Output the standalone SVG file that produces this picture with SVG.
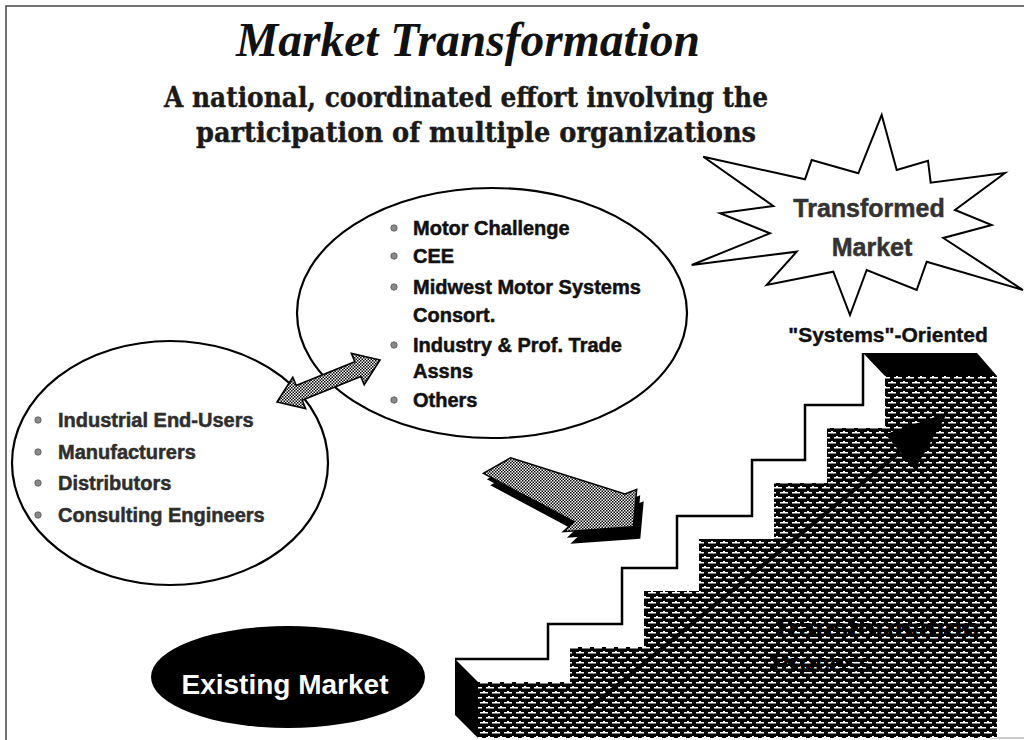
<svg xmlns="http://www.w3.org/2000/svg" width="1024" height="740" viewBox="0 0 1024 740">
  <style>
    .title { font-family: "Liberation Serif", "Times New Roman", serif; font-weight: bold; font-style: italic; fill: #111; }
    .sub { font-family: "DejaVu Serif", "Liberation Serif", serif; font-weight: bold; fill: #1a1a1a; stroke: #1a1a1a; stroke-width: 0.4; }
    .item { font-family: "Liberation Sans", Arial, sans-serif; font-weight: bold; font-size: 20px; fill: #111; stroke: #111; stroke-width: 0.5; }
    .item.soft { fill: #2e2e2e; stroke: #2e2e2e; }
    .bullet { fill: #8a8a8a; stroke: #555; stroke-width: 0.8; }
    .oval { fill: #fff; stroke: #000; stroke-width: 2.2; }
    .lbl { font-family: "Liberation Sans", Arial, sans-serif; font-weight: bold; text-anchor: middle; }
    .frame { stroke: #444; stroke-width: 1.5; fill: none; }
  </style>
  <defs>
    <!-- fine dot screen used on the block arrows -->
    <pattern id="dots" width="3" height="3" patternUnits="userSpaceOnUse">
      <rect width="3" height="3" fill="#fff"/>
      <rect width="1.5" height="1.5" fill="#000"/>
      <rect x="1.5" y="1.5" width="1.5" height="1.5" fill="#000"/>
    </pattern>
    <!-- dark brick-like hatch for the stair faces -->
    <pattern id="brick" width="12" height="10" patternUnits="userSpaceOnUse">
      <rect width="12" height="10" fill="#000"/>
      <rect x="0" y="2" width="8" height="1.5" fill="#fff"/>
      <rect x="6" y="7" width="6" height="1.5" fill="#fff"/>
      <rect x="0" y="7" width="2" height="1.5" fill="#fff"/>
      <rect x="3" y="1" width="2" height="1" fill="#fff"/>
      <rect x="8" y="6" width="2" height="1" fill="#fff"/>
    </pattern>
    <marker id="head" markerUnits="userSpaceOnUse" markerWidth="62" markerHeight="46" viewBox="0 0 62 46" refX="0" refY="23" orient="auto">
      <path d="M0,0 L62,23 L0,46 Z" fill="#000"/>
    </marker>
  </defs>

  <rect width="1024" height="740" fill="#fff"/>
  <!-- page frame -->
  <path class="frame" d="M6,740 V6 H1024"/>
  <path d="M990,738 H1024" stroke="#999" stroke-width="1.2"/>

  <!-- headings -->
  <g id="title">
    <text class="title" x="468" y="56" font-size="48" text-anchor="middle" textLength="464" lengthAdjust="spacingAndGlyphs">Market Transformation</text>
    <text class="sub" x="466" y="107" font-size="28" text-anchor="middle" textLength="604" lengthAdjust="spacingAndGlyphs">A national, coordinated effort involving the</text>
    <text class="sub" x="476" y="142" font-size="28" text-anchor="middle" textLength="560" lengthAdjust="spacingAndGlyphs">participation of multiple organizations</text>
  </g>

  <!-- burst: transformed market -->
  <g id="transformed-market">
    <polygon points="881.7,115 896.7,170 928,160.7 930.7,182.7 1005,173 955,210 991.7,225 943.3,238 1023,290 926.7,261.7 916.7,290 866.7,270 850,315 833.3,271.7 766.7,285 796.7,251.7 691.7,265 770,233.3 720,213.3 773.3,206 703.3,156.7 805,179.3 811.7,160 858.3,173.3" fill="#fff" stroke="#000" stroke-width="2" stroke-linejoin="miter"/>
    <text class="lbl" x="869" y="217" font-size="25" fill="#333" stroke="#333" stroke-width="0.5">Transformed</text>
    <text class="lbl" x="872" y="256" font-size="25" fill="#333" stroke="#333" stroke-width="0.5">Market</text>
  </g>

  <!-- participating organisations -->
  <g id="organizations">
    <ellipse class="oval" cx="492" cy="313" rx="195" ry="125"/>
    <circle class="bullet" cx="394" cy="228" r="3.2"/>
    <circle class="bullet" cx="394" cy="256" r="3.2"/>
    <circle class="bullet" cx="394" cy="287" r="3.2"/>
    <circle class="bullet" cx="394" cy="345" r="3.2"/>
    <circle class="bullet" cx="394" cy="400" r="3.2"/>
    <text class="item" x="413" y="235">Motor Challenge</text>
    <text class="item" x="413" y="263">CEE</text>
    <text class="item" x="413" y="294">Midwest Motor Systems</text>
    <text class="item" x="413" y="322">Consort.</text>
    <text class="item" x="413" y="352">Industry &amp; Prof. Trade</text>
    <text class="item" x="413" y="378">Assns</text>
    <text class="item" x="413" y="407">Others</text>
  </g>

  <!-- market participants -->
  <g id="participants">
    <ellipse class="oval" cx="170" cy="463" rx="158" ry="122"/>
    <circle class="bullet" cx="38" cy="420" r="3.2"/>
    <circle class="bullet" cx="38" cy="452" r="3.2"/>
    <circle class="bullet" cx="38" cy="483" r="3.2"/>
    <circle class="bullet" cx="38" cy="515" r="3.2"/>
    <text class="item soft" x="58" y="427">Industrial End-Users</text>
    <text class="item soft" x="58" y="459">Manufacturers</text>
    <text class="item soft" x="58" y="490">Distributors</text>
    <text class="item soft" x="58" y="522">Consulting Engineers</text>
  </g>

  <!-- starting point -->
  <g id="existing-market">
    <ellipse cx="288" cy="677" rx="137" ry="51" fill="#000"/>
    <text class="lbl" x="285" y="694" font-size="28" fill="#fff">Existing Market</text>
  </g>

  <!-- staircase of the transformation process -->
  <g id="transformation-process">
    <text class="lbl" x="888" y="342" font-size="21" fill="#111" stroke="#111" stroke-width="0.4">"Systems"-Oriented</text>
    <path d="M478,738 V682 H570 V647 H644 V591 H699 V539 H774 V483 H827 V428 H885 V376 H997 V738 Z" fill="url(#brick)"/>
    <path d="M455,659 H548 V624 H622 V568 H677 V516 H752 V460 H805 V405 H863 V353" fill="none" stroke="#000" stroke-width="2.5"/>
    <path d="M863,353 H977 L997,376 H885 Z" fill="#000"/>
    <path d="M455,659 L478,682 V738 L455,715 Z" fill="#000"/>
    <text x="876" y="637" font-family="Liberation Sans, Arial, sans-serif" font-weight="bold" font-size="26" text-anchor="middle" fill="#000" textLength="207" lengthAdjust="spacingAndGlyphs">Transformation</text>
    <text x="772" y="672" font-family="Liberation Sans, Arial, sans-serif" font-weight="bold" font-size="26" fill="#000" textLength="101" lengthAdjust="spacingAndGlyphs">Process</text>
  </g>

  <!-- connectors -->
  <g id="connectors">
    <!-- two-way link between participants and organisations -->
    <polygon points="277,402 305.6,408.6 302.2,400.3 360.8,376.5 364.2,384.8 380,360 351.4,353.4 354.8,361.7 296.2,385.5 292.8,377.2" fill="url(#dots)" stroke="#000" stroke-width="1.6" stroke-linejoin="miter"/>
    <!-- extruded arrow into the staircase -->
    <g>
      <polygon points="483.3,473.3 510.7,457.7 625,494 636.7,489.3 633.3,526.7 563.3,531.7 574,521.7" fill="#000" transform="translate(3.5,6)"/>
      <polygon points="483.3,473.3 510.7,457.7 625,494 636.7,489.3 633.3,526.7 563.3,531.7 574,521.7" fill="#000" transform="translate(7,12)"/>
      <polygon points="483.3,473.3 510.7,457.7 625,494 636.7,489.3 633.3,526.7 563.3,531.7 574,521.7" fill="url(#dots)" stroke="#000" stroke-width="1.5"/>
    </g>
    <!-- progress line up the stairs -->
    <line x1="585" y1="712" x2="900" y2="452" stroke="#000" stroke-width="4" marker-end="url(#head)"/>
  </g>
</svg>
